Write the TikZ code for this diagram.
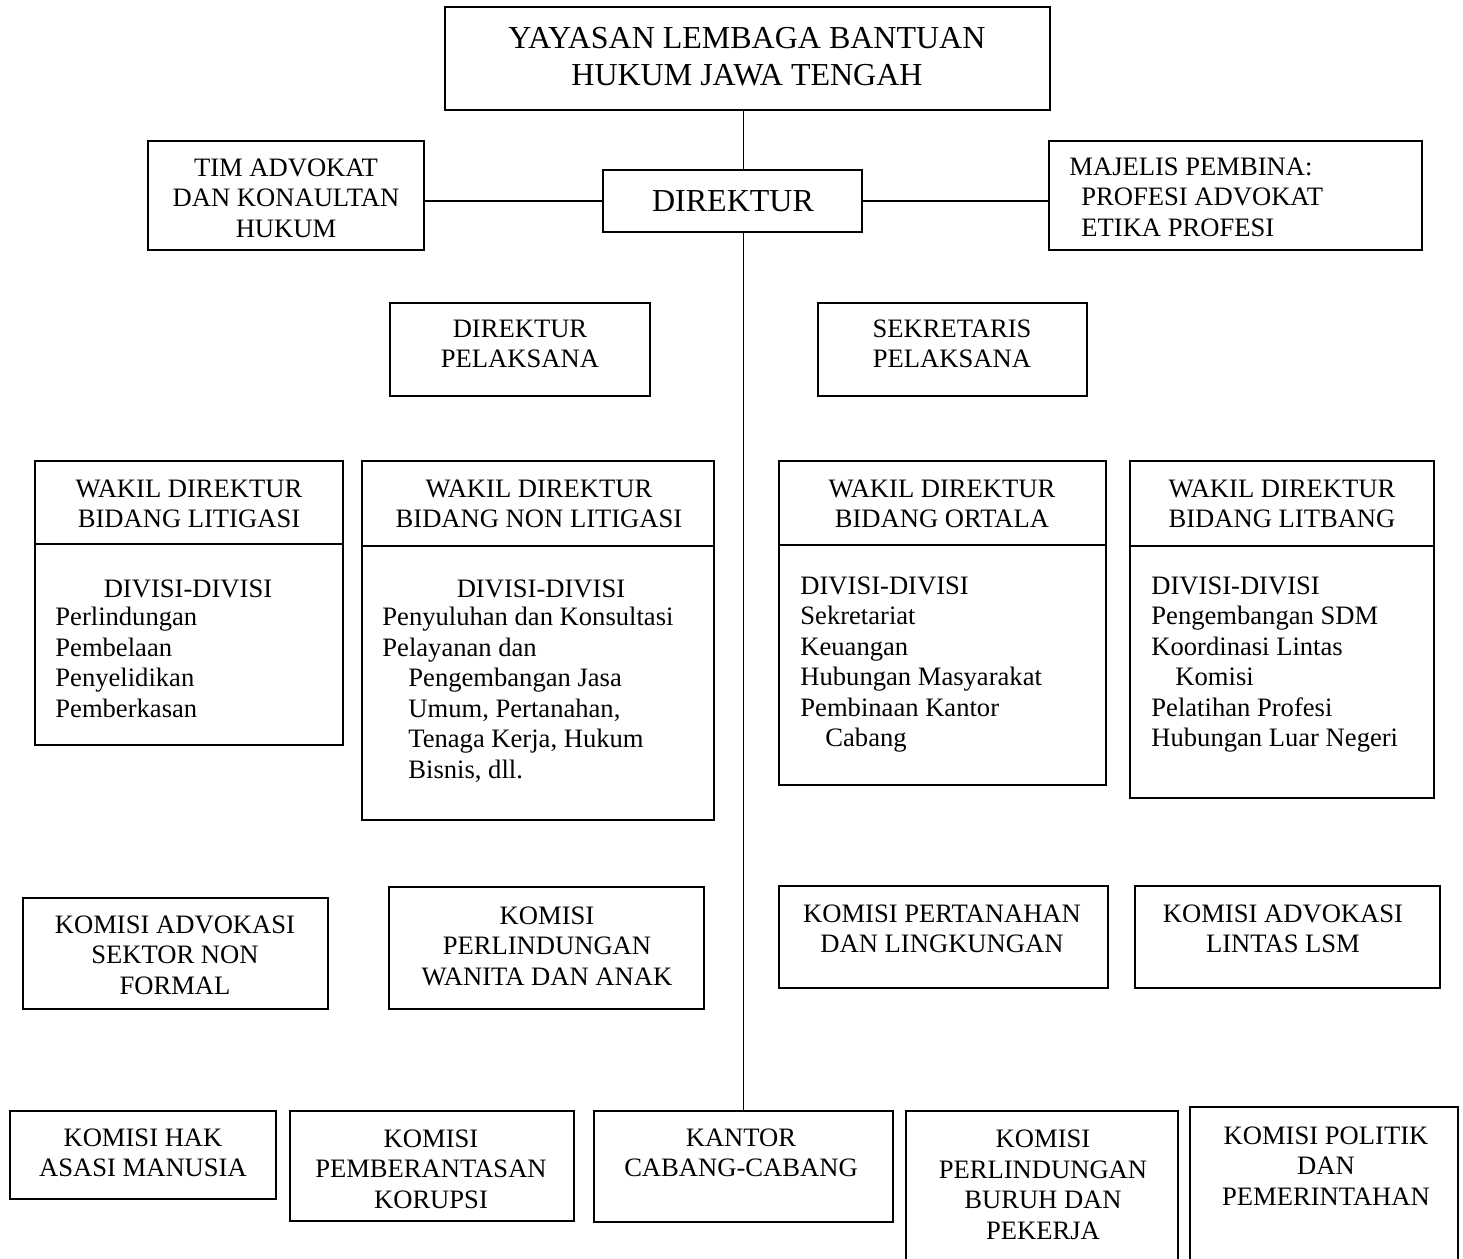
\documentclass[tikz,border=0pt]{standalone}
\usepackage{fontspec}
\setmainfont{Liberation Serif}
\usetikzlibrary{fit}
\newcommand\fsn{\fontsize{13.3}{15.25}\selectfont}
\newcommand\fst{\fontsize{16}{18.5}\selectfont}
\begin{document}
\begin{tikzpicture}[x=0.5pt,y=-0.5pt,
  box/.style={draw, line width=0.9pt, inner sep=0pt, rectangle},
  conn/.style={line width=0.9pt},
  txt/.style={inner sep=0pt, font=\fsn, align=center, yshift=-1.25pt, execute at begin node=\strut, execute at end node=\strut},
  lst/.style={txt, align=left, anchor=north west},
  ttl/.style={txt, font=\fst}]
\clip (0,0) rectangle (1463,1259);
\fill[white] (0,0) rectangle (1463,1259);

% top level
\node[box, fit={(445,7)(1050,110)}] (yay) {};
\node[ttl] (yayt) at (747,59.5) {YAYASAN LEMBAGA BANTUAN\\HUKUM JAWA TENGAH};

\node[box, fit={(148,141)(424,250)}] (tim) {};
\node[txt] (timt) at (286,200) {TIM ADVOKAT\\DAN KONAULTAN\\HUKUM};

\node[box, fit={(603,170)(862,232)}] (dir) {};
\node[ttl] (dirt) at (733,201.5) {DIREKTUR};

\node[box, fit={(1049,141)(1422,250)}] (maj) {};
\node[txt, align=left, anchor=west] (majt) at (1069,199) {MAJELIS PEMBINA:\\\hspace*{6pt}PROFESI ADVOKAT\\\hspace*{6pt}ETIKA PROFESI};

% pelaksana
\node[box, fit={(390,303)(650,396)}] (dp) {};
\node[txt] (dpt) at (520,346) {DIREKTUR\\PELAKSANA};
\node[box, fit={(818,303)(1087,396)}] (sp) {};
\node[txt] (spt) at (952,346) {SEKRETARIS\\PELAKSANA};

% wakil direktur
\node[box, fit={(35,461)(343,745)}] (w1) {};
\draw[conn] (w1.west |- 0,544) -- (w1.east |- 0,544);
\node[txt] (w1h) at (189,506) {WAKIL DIREKTUR\\BIDANG LITIGASI};
\node[txt] (w1d) at (188,589) {DIVISI-DIVISI};
\node[lst] (w1l) at (55,604.5) {Perlindungan\\Pembelaan\\Penyelidikan\\Pemberkasan};

\node[box, fit={(362,461)(714,820)}] (w2) {};
\draw[conn] (w2.west |- 0,546) -- (w2.east |- 0,546);
\node[txt] (w2h) at (539,506) {WAKIL DIREKTUR\\BIDANG NON LITIGASI};
\node[txt] (w2d) at (541,589) {DIVISI-DIVISI};
\node[lst] (w2l) at (382,604.5) {Penyuluhan dan Konsultasi\\Pelayanan dan\\\hspace*{13pt}Pengembangan Jasa\\\hspace*{13pt}Umum, Pertanahan,\\\hspace*{13pt}Tenaga Kerja, Hukum\\\hspace*{13pt}Bisnis, dll.};

\node[box, fit={(779,461)(1106,785)}] (w3) {};
\draw[conn] (w3.west |- 0,545) -- (w3.east |- 0,545);
\node[txt] (w3h) at (942,506) {WAKIL DIREKTUR\\BIDANG ORTALA};
\node[lst] (w3l) at (800,573.5) {DIVISI-DIVISI\\Sekretariat\\Keuangan\\Hubungan Masyarakat\\Pembinaan Kantor\\\hspace*{12.5pt}Cabang};

\node[box, fit={(1130,461)(1434,798)}] (w4) {};
\draw[conn] (w4.west |- 0,546) -- (w4.east |- 0,546);
\node[txt] (w4h) at (1282,506) {WAKIL DIREKTUR\\BIDANG LITBANG};
\node[lst] (w4l) at (1151,573.5) {DIVISI-DIVISI\\Pengembangan SDM\\Koordinasi Lintas\\\hspace*{12pt}Komisi\\Pelatihan Profesi\\Hubungan Luar Negeri};

% komisi row 1
\node[box, fit={(23,898)(328,1009)}] (k1) {};
\node[txt] (k1t) at (175,957) {KOMISI ADVOKASI\\SEKTOR NON\\FORMAL};
\node[box, fit={(389,887)(704,1009)}] (k2) {};
\node[txt] (k2t) at (547,948) {KOMISI\\PERLINDUNGAN\\WANITA DAN ANAK};
\node[box, fit={(779,886)(1108,988)}] (k3) {};
\node[txt] (k3t) at (942,931) {KOMISI PERTANAHAN\\DAN LINGKUNGAN};
\node[box, fit={(1135,886)(1440,988)}] (k4) {};
\node[txt] (k4t) at (1283,931) {KOMISI ADVOKASI\\LINTAS LSM};

% bottom row
\node[box, fit={(10,1111)(276,1199)}] (b1) {};
\node[txt] (b1t) at (143,1155) {KOMISI HAK\\ASASI MANUSIA};
\node[box, fit={(290,1111)(574,1221)}] (b2) {};
\node[txt] (b2t) at (431,1171) {KOMISI\\PEMBERANTASAN\\KORUPSI};
\node[box, fit={(594,1111)(893,1222)}] (kc) {};
\node[txt] (kct) at (741,1155) {KANTOR\\CABANG-CABANG};
\node[box, fit={(906,1111)(1178,1275)}] (b4) {};
\node[txt] (b4t) at (1043,1187) {KOMISI\\PERLINDUNGAN\\BURUH DAN\\PEKERJA};
\node[box, fit={(1190,1107)(1458,1275)}] (b5) {};
\node[txt] (b5t) at (1326,1168) {KOMISI POLITIK\\DAN\\PEMERINTAHAN};

% connectors
\draw[conn] (yay.south -| kc.north) -- (dir.north -| kc.north);
\draw[conn] (dir.south -| kc.north) -- (kc.north);
\draw[conn] (tim.east |- dir.west) -- (dir.west);
\draw[conn] (dir.east) -- (dir.east -| maj.west);
\end{tikzpicture}
\end{document}
